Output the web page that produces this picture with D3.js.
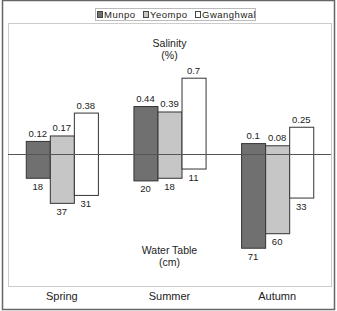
<!DOCTYPE html>
<html lang="en">
<head>
<meta charset="utf-8">
<title>Salinity and Water Table</title>
<script src="https://cdn.jsdelivr.net/npm/d3@7"></script>
<style>
body { margin: 0; background: #fff; }
text { font-family: "Liberation Sans", Arial, sans-serif; fill: #222; }
</style>
</head>
<body>
<script>
// data
var seasons = ["Spring", "Summer", "Autumn"];
var sites = ["Munpo", "Yeompo", "Gwanghwal"];
var salinity = [[0.12, 0.17, 0.38], [0.44, 0.39, 0.7], [0.1, 0.08, 0.25]];
var waterTable = [[18, 37, 31], [20, 18, 11], [71, 60, 33]];
var colors = ["#707070", "#c6c6c6", "#ffffff"];

var w = 337, h = 311;
var plot = {left: 8, right: 331, top: 23, bottom: 286};
var zeroY = 154;

var svg = d3.select("body").append("svg").attr("width", w).attr("height", h);

// outer frame and plot box
svg.append("rect").attr("x", 2.5).attr("y", 0.5).attr("width", 332).attr("height", 309)
  .attr("fill", "none").attr("stroke", "#666").attr("stroke-width", 1.5);
svg.append("rect").attr("x", plot.left + 0.5).attr("y", plot.top + 0.5)
  .attr("width", plot.right - plot.left).attr("height", plot.bottom - plot.top)
  .attr("fill", "none").attr("stroke", "#ccc");

// scales
var x0 = d3.scaleBand().domain(seasons).range([plot.left, plot.right])
  .paddingInner(0.33).paddingOuter(0.165);
var x1 = d3.scaleBand().domain(sites).range([0, x0.bandwidth()]);
var ySal = d3.scaleLinear().domain([0, 1]).range([zeroY, zeroY - 109]);
var yWt = d3.scaleLinear().domain([0, 100]).range([zeroY, zeroY + 132]);

var rows = [];
seasons.forEach(function(s, i) {
  sites.forEach(function(k, j) {
    rows.push({season: s, site: k, j: j, sal: salinity[i][j], wt: waterTable[i][j]});
  });
});

var g = svg.selectAll("g.bar").data(rows).enter().append("g").attr("class", "bar")
  .attr("transform", function(d) { return "translate(" + (x0(d.season) + x1(d.site)) + ",0)"; });

g.append("rect")
  .attr("x", 0.5).attr("width", x1.bandwidth())
  .attr("y", function(d) { return ySal(d.sal) + 0.5; })
  .attr("height", function(d) { return yWt(d.wt) - ySal(d.sal); })
  .attr("fill", function(d) { return colors[d.j]; })
  .attr("stroke", "#333").attr("stroke-width", 1);

g.append("text")
  .attr("x", x1.bandwidth() / 2).attr("y", function(d) { return ySal(d.sal) - 4; })
  .attr("text-anchor", "middle").style("font-size", "9.5px")
  .text(function(d) { return d.sal; });

g.append("text")
  .attr("x", x1.bandwidth() / 2).attr("y", function(d) { return yWt(d.wt) + 12; })
  .attr("text-anchor", "middle").style("font-size", "9.5px")
  .text(function(d) { return d.wt; });

// zero line
svg.append("line").attr("x1", plot.left).attr("x2", plot.right)
  .attr("y1", zeroY + 0.5).attr("y2", zeroY + 0.5).attr("stroke", "#555");

// category labels
svg.selectAll("text.cat").data(seasons).enter().append("text").attr("class", "cat")
  .attr("x", function(d) { return x0(d) + x0.bandwidth() / 2; }).attr("y", 300)
  .attr("text-anchor", "middle").style("font-size", "11px")
  .text(function(d) { return d; });

// titles
var cx = x0("Summer") + x0.bandwidth() / 2;
[["Salinity", 47], ["(%)", 59], ["Water Table", 254], ["(cm)", 266]].forEach(function(t) {
  svg.append("text").attr("x", cx).attr("y", t[1]).attr("text-anchor", "middle")
    .style("font-size", "10.5px").text(t[0]);
});

// legend
svg.append("rect").attr("x", 95.5).attr("y", 8.5).attr("width", 160).attr("height", 12)
  .attr("fill", "#fff").attr("stroke", "#bbb");
var legX = [97, 143, 195];
sites.forEach(function(k, j) {
  svg.append("rect").attr("x", legX[j] + 0.5).attr("y", 11.5).attr("width", 5).attr("height", 6)
    .attr("fill", colors[j]).attr("stroke", "#444");
  svg.append("text").attr("x", legX[j] + 7).attr("y", 18).style("font-size", "9.5px")
    .style("letter-spacing", "0.5px").text(k);
});
</script>
</body>
</html>
